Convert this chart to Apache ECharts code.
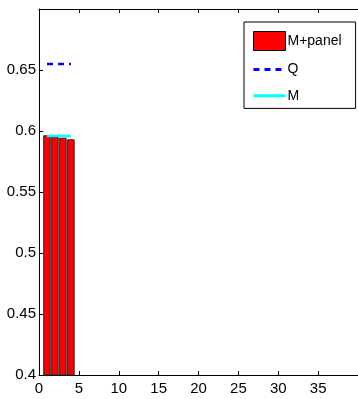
<!DOCTYPE html>
<html>
<head>
<meta charset="utf-8">
<script src="https://cdn.jsdelivr.net/npm/echarts@6/dist/echarts.min.js"></script>
<style>html,body{margin:0;padding:0;background:#fff}#c{width:358px;height:399px}</style>
</head>
<body>
<div id="c"></div>
<script>
var barX = [1, 2, 3, 4];
var barValues = [0.5965, 0.5955, 0.5945, 0.5932];
var qX = [1, 4];
var qValues = [0.655, 0.655];
var mX = [1, 4];
var mValues = [0.596, 0.596];
var xTicks = [0, 5, 10, 15, 20, 25, 30, 35, 40];
var yTicks = [0.4, 0.45, 0.5, 0.55, 0.6, 0.65, 0.7];

function pairs(xs, ys) { return xs.map(function (x, i) { return [x, ys[i]]; }); }

var font = 'Liberation Sans, Arial, sans-serif';
var chart = echarts.init(document.getElementById('c'), null, {renderer: 'canvas'});
var axisCommon = {
  type: 'value',
  min: xTicks[0], max: xTicks[xTicks.length - 1], interval: 5,
  splitLine: {show: false},
  axisLine: {show: true, onZero: false, lineStyle: {color: '#000', width: 1}},
  axisTick: {show: true, inside: true, length: 4, lineStyle: {color: '#000'}}
};
chart.setOption({
  animation: false,
  backgroundColor: '#fff',
  grid: {left: 39, top: 9, bottom: 24, right: -11, containLabel: false},
  xAxis: [
    Object.assign({}, axisCommon, {
      position: 'bottom',
      axisLabel: {color: '#000', fontFamily: font, fontSize: 15, margin: 6, showMaxLabel: false}
    }),
    Object.assign({}, axisCommon, {
      position: 'top',
      axisLabel: {show: false}
    })
  ],
  yAxis: {
    type: 'value',
    min: yTicks[0], max: yTicks[yTicks.length - 1], interval: 0.05,
    splitLine: {show: false},
    axisLine: {show: true, onZero: false, lineStyle: {color: '#000', width: 1}},
    axisTick: {show: true, inside: true, length: 4, lineStyle: {color: '#000'}},
    axisLabel: {color: '#000', fontFamily: font, fontSize: 15, margin: 3, showMaxLabel: false,
      formatter: function (v) { return String(+v.toFixed(2)); }}
  },
  legend: {
    left: 244, top: 22, orient: 'vertical',
    backgroundColor: '#fff', borderColor: '#000', borderWidth: 1,
    padding: [9, 14, 5, 8],
    itemWidth: 32, itemHeight: 19, itemGap: 11,
    textStyle: {color: '#000', fontFamily: font, fontSize: 14, padding: [0, 0, 0, -3]},
    data: [
      {name: 'M+panel', icon: 'rect', itemStyle: {borderWidth: 1, borderColor: '#000'}},
      {name: 'Q', itemStyle: {opacity: 0}, lineStyle: {width: 3, type: [6, 5]}},
      {name: 'M', itemStyle: {opacity: 0}, lineStyle: {width: 3}}
    ]
  },
  series: [
    {
      name: 'M+panel', type: 'bar', barWidth: 7.5, clip: true,
      itemStyle: {color: '#ff0000', borderColor: '#222', borderWidth: 1},
      data: pairs(barX, barValues)
    },
    {
      name: 'Q', type: 'line', symbol: 'none',
      lineStyle: {color: '#0000ff', width: 2.5, type: [6, 5]},
      itemStyle: {color: '#0000ff'},
      data: pairs(qX, qValues)
    },
    {
      name: 'M', type: 'line', symbol: 'none',
      lineStyle: {color: '#00ffff', width: 2.5},
      itemStyle: {color: '#00ffff'},
      data: pairs(mX, mValues)
    }
  ]
});
</script>
</body>
</html>
